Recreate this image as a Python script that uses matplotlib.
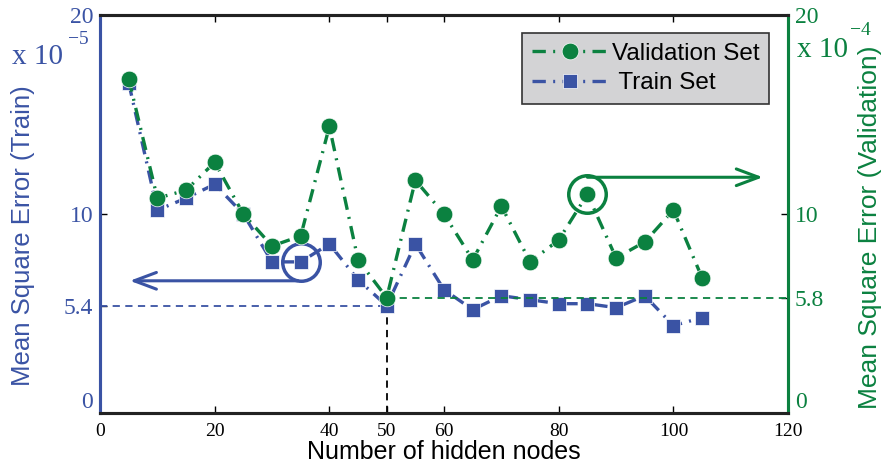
import numpy as np
import matplotlib
matplotlib.use('Agg')
import matplotlib.pyplot as plt

# hidden-layer sweep: MSE on train (x1e-5) and validation (x1e-4)
nodes = [5, 10, 15, 20, 25, 30, 35, 40, 45, 50, 55, 60, 65, 70, 75, 80, 85, 90, 95, 100, 105]
mse_train = [16.6, 10.2, 10.8, 11.5, 10.0, 7.6, 7.6, 8.5, 6.7, 5.4, 8.5, 6.2, 5.2, 5.9, 5.7,
             5.5, 5.5, 5.3, 5.9, 4.4, 4.8]
mse_val = [16.8, 10.8, 11.2, 12.6, 10.0, 8.4, 8.9, 14.4, 7.7, 5.8, 11.7, 10.0, 7.7, 10.4, 7.6,
           8.7, 11.0, 7.8, 8.6, 10.2, 6.8]

best_nodes = 50
best_train = 5.4
best_val = 5.8
ticks_train = [0, best_train, 10, 20]
ticks_val = [0, best_val, 10, 20]
xticks = [0, 20, 40, 50, 60, 80, 100, 120]

blue = '#3a53a4'
green = '#0b8140'
serif = 'Liberation Serif'
sans = 'Liberation Sans'
dashdot = (4, 2.2, 0.6, 2.2)

fig = plt.figure(figsize=(8.89, 4.69), dpi=100)
ax = fig.add_axes([0.1125, 0.119, 0.774, 0.849])
ax2 = ax.twinx()

lt, = ax.plot(nodes, mse_train, color=blue, lw=2.4, dashes=dashdot, marker='s', ms=10,
              mec='white', mew=0.5, zorder=3)
lv, = ax2.plot(nodes, mse_val, color=green, lw=2.4, dashes=dashdot, marker='o', ms=12,
               mec='white', mew=0.5, zorder=3)

# reference lines at the chosen network size
ax.plot([0, best_nodes], [best_train, best_train], color=blue, lw=1.3, ls=(0, (4, 3)), zorder=2)
ax.plot([best_nodes, best_nodes], [0, best_train], color='black', lw=1.3, ls=(0, (4, 3)), zorder=2)
ax2.plot([best_nodes, 120], [best_val, best_val], color=green, lw=1.3, ls=(0, (4, 3)), zorder=2)

# highlight circles + arrows pointing at their axis
i35 = nodes.index(35)
ax.plot(35, mse_train[i35], 'o', mfc='none', mec=blue, ms=27, mew=2.5, zorder=4)
ax.annotate('', xy=(5.2, mse_train[i35] - 0.95), xytext=(34.5, mse_train[i35] - 0.95),
            arrowprops=dict(arrowstyle='->,head_length=1.6,head_width=0.6', color=blue, lw=2.2,
                            shrinkA=0, shrinkB=0))
i85 = nodes.index(85)
ax2.plot(85, mse_val[i85], 'o', mfc='none', mec=green, ms=27, mew=2.5, zorder=4)
ax2.annotate('', xy=(115.6, mse_val[i85] + 0.85), xytext=(85, mse_val[i85] + 0.85),
             arrowprops=dict(arrowstyle='->,head_length=1.6,head_width=0.6', color=green, lw=2.2,
                             shrinkA=0, shrinkB=0))

ax.set_xlim(0, 120)
ax.set_ylim(0, 20)
ax2.set_ylim(0, 20)
ax.set_xticks(xticks)
ax.set_xticklabels([str(t) for t in xticks], fontfamily=serif, fontsize=14)
ax.set_yticks(ticks_train)
ax.set_yticklabels([f'{t:g}' for t in ticks_train], fontfamily=serif, fontsize=17, color=blue)
ax2.set_yticks(ticks_val)
ax2.set_yticklabels([f'{t:g}' for t in ticks_val], fontfamily=serif, fontsize=17, color=green)
ax.tick_params(axis='x', direction='in', top=True, length=5, width=1, pad=7)
ax.tick_params(axis='y', direction='in', length=5, width=1, pad=5)
ax2.tick_params(axis='y', direction='in', length=5, width=1, pad=5)
# keep the zero labels clear of the x tick labels
ax.get_yticklabels()[0].set_va('bottom')
ax2.get_yticklabels()[0].set_va('bottom')

for a in (ax, ax2):
    for s in a.spines.values():
        s.set_linewidth(2.2)
    a.spines['left'].set_color(blue)
    a.spines['right'].set_color(green)
    a.spines['top'].set_color('#222222')
    a.spines['bottom'].set_color('#222222')

ax.set_xlabel('Number of hidden nodes', fontfamily=sans, fontsize=18, labelpad=0)
ax.set_ylabel('Mean Square Error (Train)', fontfamily=sans, fontsize=18.5, color=blue)
ax.yaxis.set_label_coords(-0.095, 0.447)
ax2.set_ylabel('Mean Square Error (Validation)', fontfamily=sans, fontsize=19, color=green)
ax2.yaxis.set_label_coords(1.102, 0.468)

fig.text(0.013, 0.878, 'x 10', fontfamily=serif, fontsize=21, color=blue, va='center')
fig.text(0.076, 0.915, '\u22125', fontfamily=serif, fontsize=14, color=blue, va='center')
fig.text(0.897, 0.893, 'x 10', fontfamily=serif, fontsize=21, color=green, va='center')
fig.text(0.956, 0.935, '\u22124', fontfamily=serif, fontsize=14, color=green, va='center')

leg = ax2.legend([lv, lt], ['Validation Set', ' Train Set'], loc='upper right',
                 bbox_to_anchor=(0.99, 0.985), prop={'family': sans, 'size': 17.5},
                 fancybox=False, framealpha=1, facecolor='#d3d3d5', edgecolor='#333333',
                 handlelength=3.2, handletextpad=0.1, borderpad=0.4, labelspacing=0.3)
leg.get_frame().set_linewidth(1.2)

fig.savefig('out.png', dpi=100)
